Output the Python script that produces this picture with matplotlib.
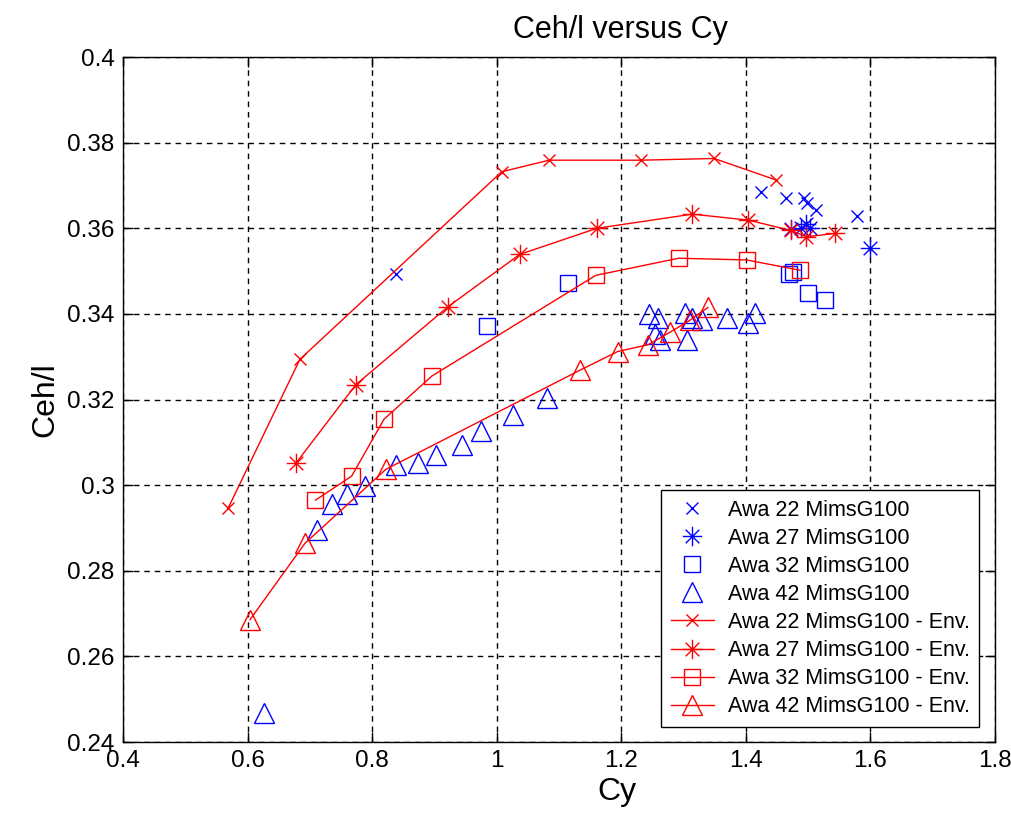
import numpy as np
import matplotlib
matplotlib.use("Agg")
import matplotlib.pyplot as plt
import matplotlib.ticker
from matplotlib.path import Path

FONT = {'family': 'Liberation Sans', 'size': 17.5}

# measured points (Cy, Ceh/l)
awa22_cy = [0.838, 1.425, 1.465, 1.493, 1.498, 1.513, 1.578]
awa22_ceh = [0.3493, 0.3684, 0.3670, 0.3670, 0.3660, 0.3643, 0.3629]

awa27_cy = [1.473, 1.488, 1.497, 1.503, 1.599]
awa27_ceh = [0.3598, 0.3600, 0.3609, 0.3600, 0.3553]

awa32_cy = [0.984, 1.115, 1.470, 1.476, 1.500, 1.527]
awa32_ceh = [0.3372, 0.3473, 0.3494, 0.3497, 0.3448, 0.3432]

awa42_cy = [0.626, 0.711, 0.735, 0.759, 0.788, 0.839, 0.874, 0.902, 0.945,
            0.974, 1.026, 1.080, 1.245, 1.259, 1.254, 1.262, 1.302, 1.305,
            1.313, 1.329, 1.369, 1.404, 1.414]
awa42_ceh = [0.2467, 0.2895, 0.2957, 0.2980, 0.2999, 0.3047, 0.3052, 0.3070,
             0.3093, 0.3127, 0.3163, 0.3203, 0.3400, 0.3390, 0.3354, 0.3339,
             0.3403, 0.3339, 0.3390, 0.3386, 0.3390, 0.3378, 0.3401]

# envelopes
env22_cy = [0.569, 0.684, 1.008, 1.084, 1.232, 1.349, 1.448]
env22_ceh = [0.2947, 0.3294, 0.3732, 0.3759, 0.3759, 0.3763, 0.3713]

env27_cy = [0.678, 0.774, 0.922, 1.037, 1.161, 1.314, 1.404, 1.472, 1.497, 1.543]
env27_ceh = [0.3052, 0.3235, 0.3417, 0.3539, 0.3600, 0.3633, 0.3619, 0.3595,
             0.3580, 0.3588]

env32_cy = [0.709, 0.767, 0.819, 0.896, 1.159, 1.292, 1.401, 1.487]
env32_ceh = [0.2965, 0.3021, 0.3154, 0.3255, 0.3490, 0.3530, 0.3526, 0.3502]

env42_cy = [0.604, 0.692, 0.822, 1.133, 1.194, 1.243, 1.278, 1.310, 1.339]
env42_ceh = [0.2686, 0.2864, 0.3037, 0.3268, 0.3312, 0.3328, 0.3357, 0.3385,
             0.3415]

x_ticks = [0.4, 0.6, 0.8, 1.0, 1.2, 1.4, 1.6, 1.8]
y_ticks = [0.24, 0.26, 0.28, 0.30, 0.32, 0.34, 0.36, 0.38, 0.40]

BLUE = (0, 0, 1)
RED = (1, 0, 0)

# matlab style asterisk
STAR = Path([(-1, 0), (1, 0), (0, -1), (0, 1),
             (-0.7, -0.7), (0.7, 0.7), (-0.7, 0.7), (0.7, -0.7)],
            [Path.MOVETO, Path.LINETO] * 4)


def main():
    matplotlib.rc('font', **FONT)
    fig = plt.figure(figsize=(10.11, 8.18), dpi=100)
    ax = fig.add_axes([0.1217, 0.0929, 0.8625, 0.8374])

    mk = dict(linestyle='none', mew=1.0, mfc='none')
    ax.plot(awa22_cy, awa22_ceh, marker='x', ms=8, color=BLUE,
            label='Awa 22 MimsG100', **mk)
    ax.plot(awa27_cy, awa27_ceh, marker=STAR, ms=14, color=BLUE,
            label='Awa 27 MimsG100', **mk)
    ax.plot(awa32_cy, awa32_ceh, marker='s', ms=12, color=BLUE,
            label='Awa 32 MimsG100', **mk)
    ax.plot(awa42_cy, awa42_ceh, marker='^', ms=14, color=BLUE,
            label='Awa 42 MimsG100', **mk)

    ln = dict(linewidth=1.0, mew=1.0, mfc='none', color=RED)
    ax.plot(env22_cy, env22_ceh, marker='x', ms=8,
            label='Awa 22 MimsG100 - Env.', **ln)
    ax.plot(env27_cy, env27_ceh, marker=STAR, ms=14,
            label='Awa 27 MimsG100 - Env.', **ln)
    ax.plot(env32_cy, env32_ceh, marker='s', ms=12,
            label='Awa 32 MimsG100 - Env.', **ln)
    ax.plot(env42_cy, env42_ceh, marker='^', ms=14,
            label='Awa 42 MimsG100 - Env.', **ln)

    ax.set_xlim(0.4, 1.8)
    ax.set_ylim(0.24, 0.40)
    ax.set_xticks(x_ticks)
    ax.set_yticks(y_ticks)
    fmt = matplotlib.ticker.FuncFormatter(lambda v, p: '%g' % round(v, 3))
    ax.xaxis.set_major_formatter(fmt)
    ax.yaxis.set_major_formatter(fmt)
    ax.tick_params(direction='in', length=7, width=1, top=True, right=True,
                   pad=6)
    ax.grid(True, color='k', linestyle=(0, (4, 3.5)), linewidth=1.0)
    for s in ax.spines.values():
        s.set_linewidth(1.0)

    # title and x label sit right of the axes centre in the original
    ax.set_title('Ceh/l versus Cy', fontsize=22, pad=14, x=0.570)
    ax.set_xlabel('Cy', fontsize=23, labelpad=3, x=0.566)
    ax.set_ylabel('Ceh/l', fontsize=23, labelpad=5)

    leg = ax.legend(loc='lower right', bbox_to_anchor=(0.982, 0.022),
                    fontsize=15.5, frameon=True, fancybox=False,
                    edgecolor='k', framealpha=1, borderaxespad=0,
                    handlelength=2.0, handletextpad=0.65,
                    labelspacing=0.33, borderpad=0.45)
    leg.get_frame().set_linewidth(1.0)

    plt.savefig('out.png', dpi=100)


if __name__ == "__main__":
    main()
